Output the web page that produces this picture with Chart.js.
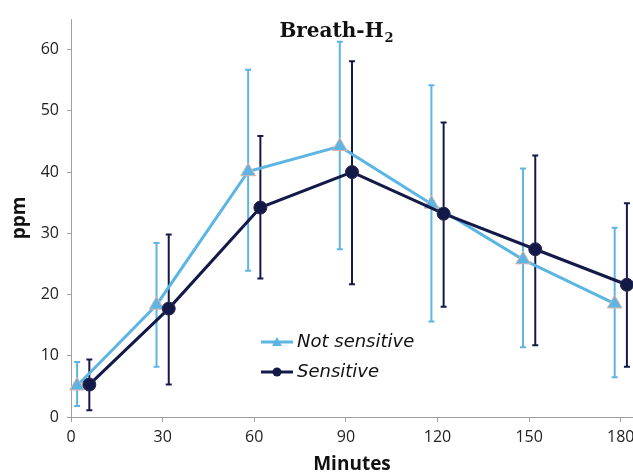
<!DOCTYPE html>
<html>
<head>
<meta charset="utf-8">
<script src="https://cdn.jsdelivr.net/npm/chart.js@4.4.1/dist/chart.umd.min.js"></script>
<style>
html,body{margin:0;padding:0;background:#fff;}
#wrap{width:633px;height:476px;position:relative;}
</style>
</head>
<body>
<div id="wrap"><canvas id="c" width="633" height="476"></canvas></div>
<script>
// ---- data ----
const xTicks = [0, 30, 60, 90, 120, 150, 180];
const yTicks = [0, 10, 20, 30, 40, 50, 60];
const notSensX = [2, 28, 58, 88, 118, 148, 178];
const notSensY = [5.1, 18.3, 40.1, 44.2, 34.8, 25.7, 18.5];
const notSensLow = [1.8, 8.2, 23.9, 27.4, 15.6, 11.4, 6.5];
const notSensHigh = [9.0, 28.4, 56.7, 61.3, 54.2, 40.6, 30.9];
const sensX = [6, 32, 62, 92, 122, 152, 182];
const sensY = [5.3, 17.7, 34.2, 40.0, 33.2, 27.4, 21.6];
const sensLow = [1.1, 5.3, 22.6, 21.7, 18.0, 11.7, 8.2];
const sensHigh = [9.4, 29.8, 45.9, 58.1, 48.1, 42.7, 34.9];
const seriesLabels = ['Not sensitive', 'Sensitive'];

const lightBlue = '#5DB5E3';
const navy = '#141A48';

const toPts = (xs, ys) => xs.map((x, i) => ({x: x, y: ys[i]}));

const errorBars = {
  id: 'errorBars',
  beforeDatasetsDraw(chart) {
    const ctx = chart.ctx, xs = chart.scales.x, ys = chart.scales.y;
    chart.data.datasets.forEach(ds => {
      ctx.save();
      ctx.strokeStyle = ds.borderColor;
      ctx.lineWidth = 2;
      ds.data.forEach((p, i) => {
        const px = xs.getPixelForValue(p.x);
        const y1 = ys.getPixelForValue(ds.errLow[i]);
        const y2 = ys.getPixelForValue(ds.errHigh[i]);
        ctx.beginPath();
        ctx.moveTo(px, y1); ctx.lineTo(px, y2);
        ctx.moveTo(px - 3, y1); ctx.lineTo(px + 3, y1);
        ctx.moveTo(px - 3, y2); ctx.lineTo(px + 3, y2);
        ctx.stroke();
      });
      ctx.restore();
    });
  }
};

const decor = {
  id: 'decor',
  afterDraw(chart) {
    const ctx = chart.ctx;
    ctx.save();
    // title
    ctx.fillStyle = '#111';
    ctx.textBaseline = 'alphabetic';
    const main = 'Breath-H';
    ctx.font = 'bold 20px "DejaVu Serif"';
    const w1 = ctx.measureText(main).width;
    ctx.font = 'bold 13px "DejaVu Serif"';
    const w2 = ctx.measureText('2').width;
    const startX = 336 - (w1 + w2) / 2;
    ctx.font = 'bold 20px "DejaVu Serif"';
    ctx.textAlign = 'left';
    ctx.fillText(main, startX, 37);
    ctx.font = 'bold 13px "DejaVu Serif"';
    ctx.fillText('2', startX + w1 + 1, 42);

    // legend
    const items = [
      {label: seriesLabels[0], color: lightBlue, style: 'triangle', y: 342},
      {label: seriesLabels[1], color: navy, style: 'circle', y: 372}
    ];
    items.forEach(it => {
      ctx.strokeStyle = it.color;
      ctx.lineWidth = 3;
      ctx.beginPath();
      ctx.moveTo(261, it.y); ctx.lineTo(293, it.y);
      ctx.stroke();
      ctx.fillStyle = it.color;
      ctx.beginPath();
      if (it.style === 'triangle') {
        ctx.moveTo(277, it.y - 5); ctx.lineTo(282, it.y + 4); ctx.lineTo(272, it.y + 4); ctx.closePath();
      } else {
        ctx.arc(277, it.y, 4.5, 0, Math.PI * 2);
      }
      ctx.fill();
      ctx.fillStyle = '#111';
      ctx.font = 'oblique 18px "DejaVu Sans"';
      ctx.textBaseline = 'middle';
      ctx.fillText(it.label, 297, it.y);
    });
    ctx.restore();
  }
};

const tickFont = {family: '"Open Sans"', size: 16};

new Chart(document.getElementById('c'), {
  type: 'line',
  data: {
    datasets: [
      {
        label: seriesLabels[0],
        data: toPts(notSensX, notSensY),
        errLow: notSensLow, errHigh: notSensHigh,
        borderColor: lightBlue,
        backgroundColor: lightBlue,
        borderWidth: 3,
        pointStyle: 'triangle',
        pointRadius: 8.5,
        pointBorderColor: '#E2B4A6',
        pointBorderWidth: 1,
        pointBackgroundColor: lightBlue,
        order: 2
      },
      {
        label: seriesLabels[1],
        data: toPts(sensX, sensY),
        errLow: sensLow, errHigh: sensHigh,
        borderColor: navy,
        backgroundColor: navy,
        borderWidth: 3,
        pointStyle: 'circle',
        pointRadius: 6.5,
        pointBorderColor: '#2a2a50',
        pointBorderWidth: 1,
        pointBackgroundColor: navy,
        order: 1
      }
    ]
  },
  options: {
    responsive: false,
    animation: false,
    clip: false,
    layout: {autoPadding: false, padding: {top: 19, right: 0, left: 0, bottom: 0}},
    plugins: {legend: {display: false}, tooltip: {enabled: false}, title: {display: false}},
    scales: {
      x: {
        type: 'linear', min: 0, max: 184,
        afterBuildTicks: s => { s.ticks = xTicks.map(v => ({value: v})); },
        afterFit: s => { s.height = 59; s.paddingRight = 0; s.paddingLeft = 0; },
        ticks: {autoSkip: false, maxRotation: 0, color: '#222', font: tickFont, padding: 6},
        grid: {display: true, drawOnChartArea: false, drawTicks: true, tickLength: 5, color: '#A0A0A0'},
        border: {display: true, color: '#A0A0A0', width: 1},
        title: {display: true, text: 'Minutes', color: '#111', font: {family: '"Open Sans"', size: 19, weight: 'bold', lineHeight: 1}, padding: {top: 0, bottom: 2}}
      },
      y: {
        type: 'linear', min: 0, max: 65,
        afterBuildTicks: s => { s.ticks = yTicks.map(v => ({value: v})); },
        afterFit: s => { s.width = 71; },
        ticks: {color: '#222', font: tickFont, padding: 8},
        grid: {display: true, drawOnChartArea: false, drawTicks: true, tickLength: 4, color: '#A0A0A0'},
        border: {display: true, color: '#A0A0A0', width: 1},
        title: {display: true, text: 'ppm', color: '#111', font: {family: '"Open Sans"', size: 19, weight: 'bold', lineHeight: 1}, padding: {top: 10, bottom: 0}}
      }
    }
  },
  plugins: [errorBars, decor]
});
</script>
</body>
</html>
